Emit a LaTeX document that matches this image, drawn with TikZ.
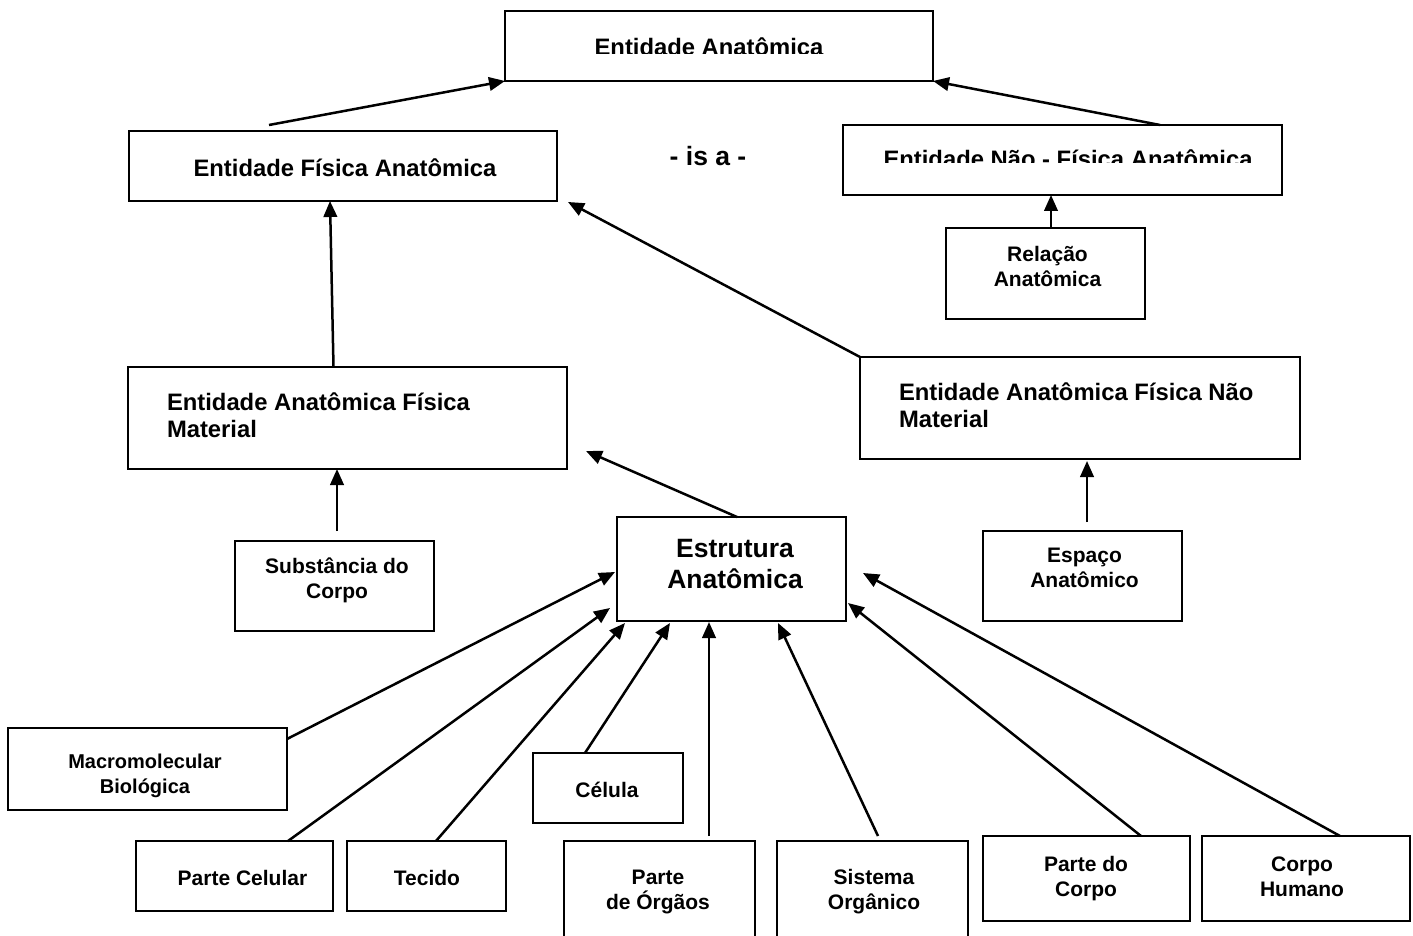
\documentclass[tikz,border=0pt]{standalone}
\usepackage{fontspec}
\setmainfont{Liberation Sans}
\usetikzlibrary{arrows.meta}

\tikzset{
  box/.style={draw, line width=2.2pt, inner sep=0pt, outer sep=0pt},
  % multi-line labels are placed by the baseline of their last line
  txt/.style={inner sep=0pt, outer sep=0pt, anchor=base, align=center,
              font=\bfseries\fontsize{21}{24.5}\selectfont},
  txtbig/.style={txt, font=\bfseries\fontsize{23.8}{27}\selectfont},
  txthuge/.style={txt, font=\bfseries\fontsize{26.5}{31}\selectfont},
  isa/.style={-{Triangle[length=16pt,width=13.5pt]}, line width=2.5pt},
}

\begin{document}
\begin{tikzpicture}[x=1pt,y=-1pt]
\useasboundingbox (0,0) rectangle (1413,936);
\clip (0,0) rectangle (1413,936);

% ---------- boxes ----------
\node[box, minimum width=428, minimum height=70]  (ea)    at (719,46) {};
\node[box, minimum width=428, minimum height=70]  (efa)   at (343,166) {};
\node[box, minimum width=439, minimum height=70]  (enf)   at (1062.5,160) {};
\node[box, minimum width=199, minimum height=91]  (rel)   at (1045.5,273.5) {};
\node[box, minimum width=439, minimum height=102] (eafm)  at (347.5,418) {};
\node[box, minimum width=440, minimum height=102] (eafnm) at (1080,408) {};
\node[box, minimum width=199, minimum height=90]  (sub)   at (334.5,586) {};
\node[box, minimum width=229, minimum height=104] (est)   at (731.5,569) {};
\node[box, minimum width=199, minimum height=90]  (esp)   at (1082.5,576) {};
\node[box, minimum width=279, minimum height=82]  (mac)   at (147.5,769) {};
\node[box, minimum width=150, minimum height=70]  (cel)   at (608,788) {};
\node[box, minimum width=197, minimum height=70]  (pcel)  at (234.5,876) {};
\node[box, minimum width=159, minimum height=70]  (tec)   at (426.5,876) {};
\node[box, minimum width=191, minimum height=110] (porg)  at (659.5,896) {};
\node[box, minimum width=191, minimum height=110] (sis)   at (872.5,896) {};
\node[box, minimum width=207, minimum height=85]  (pcor)  at (1086.5,878.5) {};
\node[box, minimum width=208, minimum height=85]  (chum)  at (1306,878.5) {};

% ---------- texts ----------
% the two top labels are cut off at their lower edge
\begin{scope}
  \clip (505,11) rectangle (933,53.5);
  \node[txtbig] (ea-t) at (709,56) {Entidade Anatômica};
\end{scope}
\begin{scope}
  \clip (843,125) rectangle (1282,163);
  \node[txtbig] (enf-t) at (1068,168) {Entidade Não - Física Anatômica};
\end{scope}

\node[txtbig] (efa-t) at (345,177) {Entidade Física Anatômica};
\node[txthuge] (isa-t) at (708,166) {- is a -};
\node[txt] (rel-t) at (1047.5,286) {Relação\\Anatômica};
\node[txtbig, anchor=base west, align=left] (eafm-t) at (167,437)
  {Entidade Anatômica Física\\Material};
\node[txtbig, anchor=base west, align=left] (eafnm-t) at (899,427)
  {Entidade Anatômica Física Não\\Material};
\node[txt] (sub-t) at (337,598) {Substância do\\Corpo};
\node[txthuge] (est-t) at (735,588) {Estrutura\\Anatômica};
\node[txt] (esp-t) at (1084.5,587) {Espaço\\Anatômico};
\node[txt, font=\bfseries\fontsize{20}{24.5}\selectfont] (mac-t) at (145,793)
  {Macromolecular\\Biológica};
\node[txt] (cel-t) at (607,797) {Célula};
\node[txt] (pcel-t) at (242.5,885) {Parte Celular};
\node[txt] (tec-t) at (427,885) {Tecido};
\node[txt] (porg-t) at (658,909) {Parte\\de Órgãos};
\node[txt] (sis-t) at (874,909) {Sistema\\Orgânico};
\node[txt] (pcor-t) at (1086,896) {Parte do\\Corpo};
\node[txt] (chum-t) at (1302,896) {Corpo\\Humano};

% ---------- is-a connectors ----------
\draw[isa] ([xshift=-74pt,yshift=6pt]efa.north) -- (ea.south west);
\draw[isa] ([xshift=97.5pt]enf.north) -- (ea.south east);
\draw[isa] ([xshift=5.5pt]rel.north) -- ([xshift=5.5pt]rel.north |- enf.south);
\draw[isa] ([xshift=-14pt]eafm.north) -- ([xshift=-13pt]efa.south);
\draw[isa] (eafnm.north west) -- ([xshift=11pt,yshift=-1pt]efa.south east);
\draw[isa] ([xshift=2.5pt,yshift=10pt]sub.north) -- ([xshift=-10.5pt]eafm.south);
\draw[isa] ([xshift=5.5pt]est.north) -- ([xshift=19pt,yshift=18pt]eafm.south east);
\draw[isa] ([xshift=4.5pt,yshift=9pt]esp.north) -- ([xshift=7pt,yshift=-2pt]eafnm.south);

\draw[isa] ([yshift=-11pt]mac.north east) -- ([xshift=-2pt,yshift=-3pt]est.west);
\draw[isa] ([xshift=53.5pt]pcel.north) -- ([xshift=-7pt,yshift=13pt]est.south west);
\draw[isa] ([xshift=9.5pt]tec.north) -- ([xshift=8pt,yshift=-2pt]est.south west);
\draw[isa] ([xshift=-23pt]cel.north) -- ([xshift=53pt,yshift=-2pt]est.south west);
\draw[isa] ([xshift=49.5pt,yshift=5pt]porg.north) -- ([xshift=-22.5pt,yshift=-1pt]est.south);
\draw[isa] ([xshift=5.5pt,yshift=5pt]sis.north) -- ([xshift=46.5pt,yshift=-2pt]est.south);
\draw[isa] ([xshift=54.5pt]pcor.north) -- ([xshift=2pt,yshift=18pt]est.south east);
\draw[isa] ([xshift=34pt]chum.north) -- ([xshift=17pt,yshift=-4pt]est.east);
\end{tikzpicture}
\end{document}
